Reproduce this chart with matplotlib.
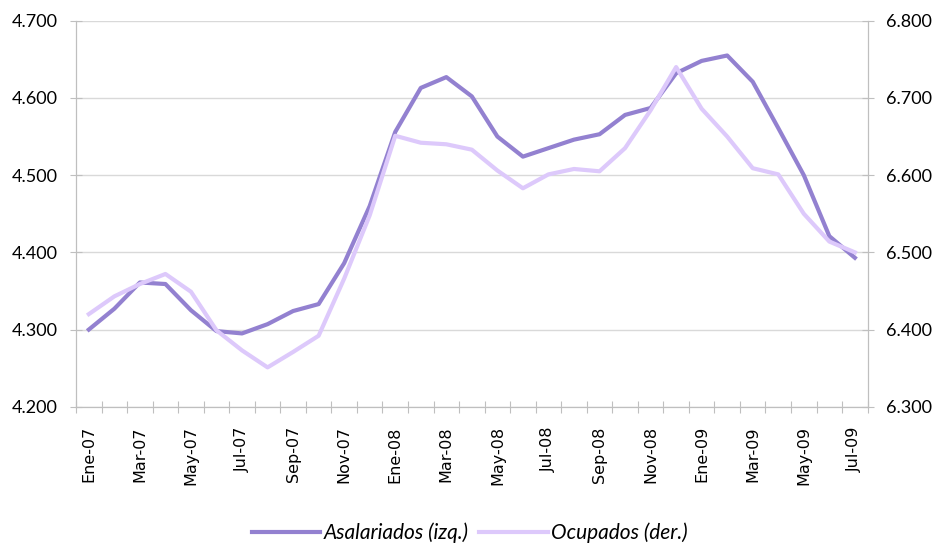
import matplotlib.pyplot as plt
from matplotlib.ticker import FuncFormatter, FixedLocator

months = ["Ene-07", "Feb-07", "Mar-07", "Abr-07", "May-07", "Jun-07", "Jul-07", "Ago-07",
          "Sep-07", "Oct-07", "Nov-07", "Dic-07", "Ene-08", "Feb-08", "Mar-08", "Abr-08",
          "May-08", "Jun-08", "Jul-08", "Ago-08", "Sep-08", "Oct-08", "Nov-08", "Dic-08",
          "Ene-09", "Feb-09", "Mar-09", "Abr-09", "May-09", "Jun-09", "Jul-09"]

asalariados = [4300, 4327, 4361, 4359, 4325, 4298, 4295, 4307, 4324, 4333, 4386, 4460,
               4556, 4613, 4627, 4602, 4550, 4524, 4535, 4546, 4553, 4578, 4587, 4632,
               4648, 4655, 4621, 4561, 4500, 4421, 4393]

ocupados = [6420, 6443, 6459, 6472, 6449, 6399, 6373, 6351, 6371, 6392, 6466, 6548,
            6651, 6642, 6640, 6633, 6606, 6583, 6601, 6608, 6605, 6635, 6684, 6740,
            6686, 6650, 6609, 6601, 6550, 6514, 6500]

dark = "#9381D0"
light = "#DDC9FB"
grey = "#BFBFBF"
font = ["Lato", "DejaVu Sans"]


def thousands(v, pos):
    return f"{v:,.0f}".replace(",", ".")


fig = plt.figure(figsize=(9.39, 5.46), dpi=100)
ax = fig.add_axes([0.081, 0.255, 0.843, 0.707])
ax2 = ax.twinx()

x = list(range(len(months)))
l1, = ax.plot(x, asalariados, color=dark, lw=3, label="Asalariados (izq.)",
              solid_joinstyle="round")
l2, = ax2.plot(x, ocupados, color=light, lw=3, label="Ocupados (der.)",
               solid_joinstyle="round")

ax.set_xlim(-0.5, len(months) - 0.5)
ax.set_ylim(4200, 4700)
ax2.set_ylim(6300, 6800)
ax.set_yticks(range(4200, 4701, 100))
ax2.set_yticks(range(6300, 6801, 100))
ax.yaxis.set_major_formatter(FuncFormatter(thousands))
ax2.yaxis.set_major_formatter(FuncFormatter(thousands))

ax.grid(axis="y", color="#D9D9D9", lw=1)
ax.set_axisbelow(True)

# category boundaries carry the tick marks, labels sit on every other month
ax.xaxis.set_major_locator(FixedLocator([i - 0.5 for i in range(len(months) + 1)]))
ax.xaxis.set_major_formatter(FuncFormatter(lambda v, p: ""))
ax.xaxis.set_minor_locator(FixedLocator(x[::2]))
ax.set_xticklabels(months[::2], minor=True, rotation=90, fontsize=11.5, family="DejaVu Sans")
ax.tick_params(axis="x", which="major", direction="inout", length=8, color=grey)
ax.tick_params(axis="x", which="minor", length=0, pad=14)

for a in (ax, ax2):
    for s in a.spines.values():
        s.set_color(grey)
    a.spines["top"].set_visible(False)
    a.tick_params(axis="y", direction="inout", length=8, color=grey, labelsize=13, pad=9)
    for lab in a.get_yticklabels():
        lab.set_family(font)

fig.legend(handles=[l1, l2], loc="center", bbox_to_anchor=(0.5, 0.024), ncol=2,
           frameon=False, handlelength=3.3, columnspacing=0.5, handletextpad=0.15,
           prop={"family": font, "style": "italic", "size": 15})

fig.savefig("out.png", dpi=100)
